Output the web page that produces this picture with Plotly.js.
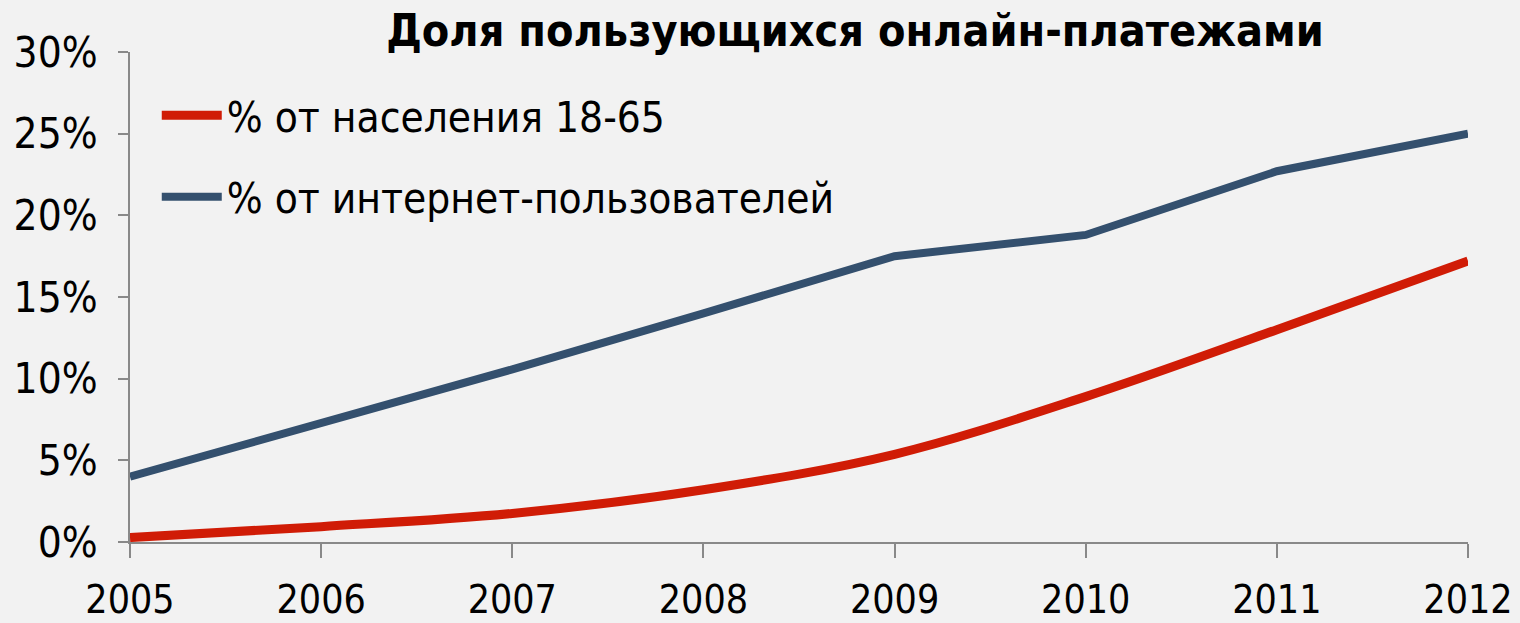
<!DOCTYPE html>
<html>
<head>
<meta charset="utf-8">
<script src="https://cdn.plot.ly/plotly-3.0.1.min.js"></script>
<style>html,body{margin:0;padding:0;background:#f2f2f2;}#chart{width:1520px;height:623px;}</style>
</head>
<body>
<div id="chart"></div>
<script>
var years = ["2005","2006","2007","2008","2009","2010","2011","2012"];
var population = [0.27, 0.94, 1.75, 3.2, 5.37, 8.9, 13.0, 17.2];
var internetUsers = [4.0, 7.27, 10.57, 14.0, 17.5, 18.8, 22.7, 25.0];
var seriesNames = ["% от населения 18-65", "% от интернет-пользователей"];
var yTickVals = [0, 5, 10, 15, 20, 25, 30];
var yTickText = ["0%", "5%", "10%", "15%", "20%", "25%", "30%"];
var titleText = "Доля пользующихся онлайн-платежами";

var FONT = "'Liberation Sans Narrow', 'DejaVu Sans Condensed', sans-serif";

var traces = [
  {x: years.map(Number), y: population, name: seriesNames[0], type: "scatter", mode: "lines",
   line: {color: "#d01c06", width: 9, shape: "spline", smoothing: 1}, legendgroup: "a"},
  {x: years.map(Number), y: internetUsers, name: seriesNames[1], type: "scatter", mode: "lines",
   line: {color: "#34506e", width: 8, shape: "linear"}, legendgroup: "b"}
];

var layout = {
  width: 1520, height: 623,
  paper_bgcolor: "#f2f2f2", plot_bgcolor: "#f2f2f2",
  margin: {l: 130, r: 52, t: 52, b: 81},
  font: {family: FONT, size: 42, color: "#000"},
  title: {text: "<b>" + titleText + "</b>", font: {family: FONT, size: 44.5, color: "#000"},
          x: 855/1520, xanchor: "center", xref: "container", y: 1 - 30/623, yanchor: "middle", yref: "container"},
  showlegend: true,
  legend: {x: 0.02, y: 0.94, xanchor: "left", yanchor: "top", bgcolor: "rgba(0,0,0,0)",
           font: {family: FONT, size: 42}, itemwidth: 60, tracegroupgap: 24, traceorder: "grouped"},
  xaxis: {range: [2005, 2012], tickvals: years.map(Number), ticktext: years, showgrid: false, zeroline: false,
          showline: true, linecolor: "#898989", linewidth: 2, ticks: "outside", ticklen: 14, tickwidth: 2,
          tickcolor: "#898989", ticklabelstandoff: 8, tickfont: {family: FONT, size: 39}, fixedrange: true},
  yaxis: {range: [0, 30], tickvals: yTickVals, ticktext: yTickText, showgrid: false, zeroline: false,
          showline: true, linecolor: "#898989", linewidth: 2, ticks: "outside", ticklen: 10, tickwidth: 2,
          tickcolor: "#898989", ticklabelstandoff: 12, fixedrange: true}
};

Plotly.newPlot("chart", traces, layout, {displayModeBar: false, staticPlot: true});
</script>
</body>
</html>
